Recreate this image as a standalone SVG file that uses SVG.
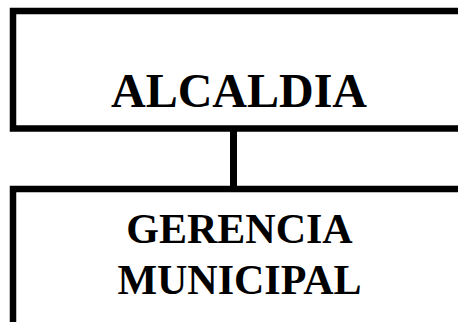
<svg xmlns="http://www.w3.org/2000/svg" width="458" height="322" viewBox="0 0 458 322">
<style>
.box{fill:#fff;stroke:#000;stroke-width:6.5}
.t{font-family:"Liberation Serif","Times New Roman",serif;font-weight:bold;fill:#000;text-anchor:middle}
</style>
<rect width="458" height="322" fill="#fff"/>
<g id="connectors">
<line x1="233.5" y1="128" x2="233.5" y2="189" stroke="#000" stroke-width="7"/>
</g>
<g id="alcaldia">
<rect class="box" x="13" y="11" width="500" height="117.5"/>
<text class="t" x="239" y="106.7" font-size="48">ALCALDIA</text>
</g>
<g id="gerencia">
<rect class="box" x="13" y="189" width="500" height="200"/>
<text class="t" x="239.5" y="243.3" font-size="42">GERENCIA</text>
<text class="t" x="239.5" y="294" font-size="42">MUNICIPAL</text>
</g>
</svg>
